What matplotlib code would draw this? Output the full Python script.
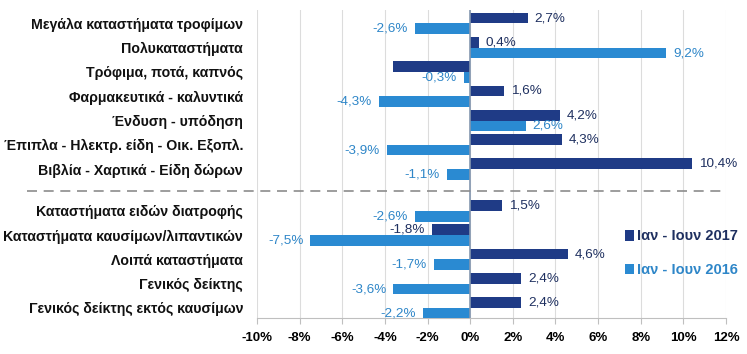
import matplotlib.pyplot as plt
from matplotlib.transforms import blended_transform_factory
import numpy as np

plt.rcParams['font.family'] = ['Liberation Sans', 'DejaVu Sans']

categories = [
    "Μεγάλα καταστήματα τροφίμων",
    "Πολυκαταστήματα",
    "Τρόφιμα, ποτά, καπνός",
    "Φαρμακευτικά - καλυντικά",
    "Ένδυση - υπόδηση",
    "Έπιπλα - Ηλεκτρ. είδη - Οικ. Εξοπλ.",
    "Βιβλία - Χαρτικά - Είδη δώρων",
    "Καταστήματα ειδών διατροφής",
    "Καταστήματα καυσίμων/λιπαντικών",
    "Λοιπά καταστήματα",
    "Γενικός δείκτης",
    "Γενικός δείκτης εκτός καυσίμων",
]
v2017 = [2.7, 0.4, -3.6, 1.6, 4.2, 4.3, 10.4, 1.5, -1.8, 4.6, 2.4, 2.4]
v2016 = [-2.6, 9.2, -0.3, -4.3, 2.6, -3.9, -1.1, -2.6, -7.5, -1.7, -3.6, -2.2]
hidden_2017 = [2]  # label not shown in the original
xticks = [-10, -8, -6, -4, -2, 0, 2, 4, 6, 8, 10, 12]
legend_labels = ["Ιαν - Ιουν 2017", "Ιαν - Ιουν 2016"]

dark = "#1F3B86"
light = "#2A8AD2"
dark_txt = "#1F3060"
light_txt = "#2E86C8"

fig = plt.figure(figsize=(7.47, 3.54), dpi=100)
ax = fig.add_axes([0.344, 0.102, 0.628, 0.87])

gap = 1.72
y = np.array([i if i < 7 else i - 1 + gap for i in range(len(categories))])
h = 0.44

b1 = ax.barh(y - h / 2, v2017, height=h, color=dark, label=legend_labels[0], zorder=3)
b2 = ax.barh(y + h / 2, v2016, height=h, color=light, label=legend_labels[1], zorder=3)

def fmt(v):
    return ("%.1f%%" % v).replace(".", ",")

for i, v in enumerate(v2017):
    if i in hidden_2017:
        continue
    ax.annotate(fmt(v), (v, y[i] - h / 2), xytext=(5 if v >= 0 else -5, 0),
                textcoords="offset points", ha="left" if v >= 0 else "right",
                va="center", fontsize=9.7, color=dark_txt, zorder=4)
for i, v in enumerate(v2016):
    ax.annotate(fmt(v), (v, y[i] + h / 2), xytext=(5 if v >= 0 else -5, 0),
                textcoords="offset points", ha="left" if v >= 0 else "right",
                va="center", fontsize=9.7, color=light_txt, zorder=4)

ax.set_xlim(-10, 12)
ax.set_ylim(12.13, -0.556)
ax.set_xticks(xticks)
ax.set_xticklabels(["%d%%" % t for t in xticks], fontsize=9.5, fontweight="bold")
ax.set_yticks(y)
ax.set_yticklabels(categories, fontsize=10.2, fontweight="bold", color="#111111")
ax.tick_params(axis="y", length=0, pad=10)
ax.tick_params(axis="x", length=4, color="#BFBFBF", pad=6)

ax.grid(axis="x", color="#DCDCDC", linewidth=0.8, zorder=0)
ax.axvline(0, color="#8497B0", linewidth=1.2, zorder=4)
for s in ["top", "right", "left"]:
    ax.spines[s].set_visible(False)
ax.spines["bottom"].set_color("#BFBFBF")

# dashed separator between the two groups
tr = blended_transform_factory(fig.transFigure, ax.transData)
sep_y = 6 + gap / 2 + 0.04
ax.plot([0.036, 0.965], [sep_y, sep_y], transform=tr, color="#8C8C8C",
        linestyle=(0, (6, 4)), linewidth=1.2, clip_on=False, zorder=5)

leg = ax.legend(loc="center left", bbox_to_anchor=(0.785, 0.21), frameon=False,
                prop={"size": 10.5, "weight": "bold"}, handlelength=0.6,
                handleheight=0.75, handletextpad=0.2, labelspacing=1.35,
                borderaxespad=0, borderpad=0)
for t, c in zip(leg.get_texts(), [dark_txt, light_txt]):
    t.set_color(c)

plt.savefig("out.png", dpi=100)
